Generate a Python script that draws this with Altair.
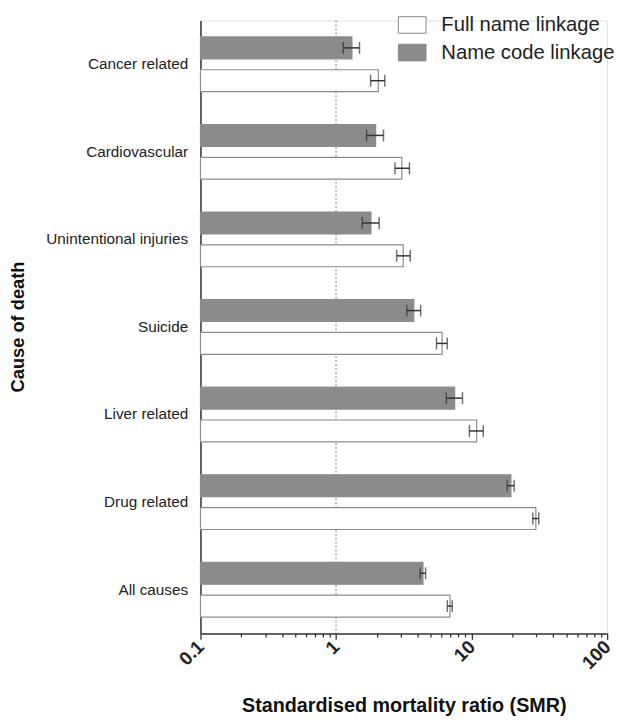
import altair as alt
import pandas as pd

causes = ["Cancer related", "Cardiovascular", "Unintentional injuries", "Suicide",
          "Liver related", "Drug related", "All causes"]
series = ["Full name linkage", "Name code linkage"]

full_smr = [2.05, 3.06, 3.13, 6.06, 10.9, 29.8, 6.93]
full_lo = [1.80, 2.72, 2.80, 5.51, 9.63, 28.3, 6.62]
full_hi = [2.29, 3.48, 3.53, 6.62, 12.2, 31.3, 7.20]

code_smr = [1.31, 1.96, 1.81, 3.75, 7.5, 19.5, 4.38]
code_lo = [1.13, 1.68, 1.56, 3.33, 6.51, 18.3, 4.17]
code_hi = [1.49, 2.24, 2.08, 4.21, 8.57, 20.6, 4.58]

major_ticks = [0.1, 1, 10, 100]
minor_ticks = [0.2, 0.3, 0.4, 0.5, 0.6, 0.7, 0.8, 0.9,
               2, 3, 4, 5, 6, 7, 8, 9,
               20, 30, 40, 50, 60, 70, 80, 90]

rows = []
for i, c in enumerate(causes):
    rows.append({"cause": c, "series": series[0], "smr": full_smr[i], "lo": full_lo[i], "hi": full_hi[i]})
    rows.append({"cause": c, "series": series[1], "smr": code_smr[i], "lo": code_lo[i], "hi": code_hi[i]})
df = pd.DataFrame(rows)

FONT = "Liberation Sans"
is_major = "indexof([0.1, 1, 10, 100], datum.value) >= 0"

xscale = alt.Scale(type="log", domain=[0.1, 100], nice=False)
xaxis = alt.Axis(
    values=sorted(major_ticks + minor_ticks),
    labelExpr=f"{is_major} ? format(datum.value, '~g') : ''",
    labelOverlap=False,
    labelAngle=-45, labelAlign="right", labelBaseline="middle",
    labelFontSize=19, labelFontWeight="bold", labelColor="#222", labelPadding=4,
    tickSize={"condition": {"test": is_major, "value": 6}, "value": 3.5},
    tickColor="#333", tickWidth=1.3,
    domainColor="#333", domainWidth=1.5, grid=False,
    title="Standardised mortality ratio (SMR)",
    titleFontSize=20, titleFontWeight="bold", titleColor="#111",
    titleY=79, titleBaseline="alphabetic",
)

base = alt.Chart(df).encode(
    y=alt.Y("cause:N", sort=causes,
            scale=alt.Scale(paddingInner=0, paddingOuter=0),
            axis=alt.Axis(ticks=False, labelFontSize=15.5, labelColor="#222",
                          labelPadding=13, domainColor="#333", domainWidth=1.5,
                          title="Cause of death", titleFontSize=18.5,
                          titleFontWeight="bold", titleColor="#111",
                          titleAngle=-90, titleX=-185, titleY=310,
                          titleAlign="center", titleBaseline="middle")),
    yOffset=alt.YOffset("series:N", sort=["Name code linkage", "Full name linkage"],
                        scale=alt.Scale(paddingInner=1/3, paddingOuter=0.5)),
)

refline = alt.Chart(pd.DataFrame({"v": [1]})).mark_rule(
    color="#777", strokeDash=[2, 2], strokeWidth=1
).encode(x=alt.X("v:Q", scale=xscale, axis=xaxis))

bars = base.mark_bar(stroke="#8c8c8c", strokeWidth=1.2).encode(
    x=alt.X("smr:Q", scale=xscale, axis=xaxis),
    x2=alt.datum(0.1),
    fill=alt.Fill("series:N", scale=alt.Scale(domain=series, range=["#ffffff", "#8b8b8d"]),
                  legend=alt.Legend(title=None, orient="none", legendX=200, legendY=-10,
                                    symbolType="M-1,-0.6L1,-0.6L1,0.6L-1,0.6Z",
                                    symbolSize=784, symbolStrokeColor="#888",
                                    symbolStrokeWidth=1, labelFontSize=20.5,
                                    labelColor="#222", labelOffset=15, rowPadding=3,
                                    labelFont=FONT, labelLimit=0)),
)

rules = base.mark_rule(color="#333", strokeWidth=1.5).encode(x="lo:Q", x2="hi:Q")
cap_lo = base.mark_tick(color="#333", thickness=1.5, size=12).encode(x="lo:Q")
cap_hi = base.mark_tick(color="#333", thickness=1.5, size=12).encode(x="hi:Q")

chart = alt.layer(refline, bars, rules, cap_lo, cap_hi).properties(
    width=412, height=621,
    autosize=alt.AutoSizeParams(type="none"),
    padding={"left": 195, "top": 8, "right": 10, "bottom": 82},
).configure_view(stroke=None).configure(font=FONT)

chart.save("out.html", embed_options={"renderer": "svg", "actions": False})
